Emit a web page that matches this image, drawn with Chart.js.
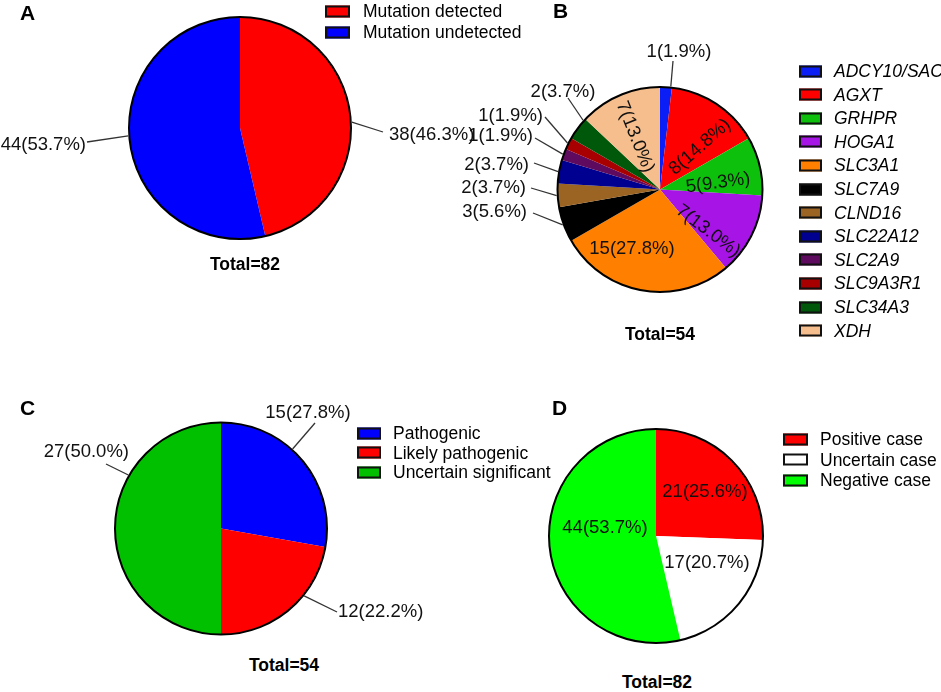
<!DOCTYPE html>
<html>
<head>
<meta charset="utf-8">
<script src="https://cdn.jsdelivr.net/npm/chart.js@4.4.1/dist/chart.umd.min.js"></script>
<style>
    body { margin: 0; background: #fff; }
    #page { position: relative; width: 941px; height: 692px; overflow: hidden; font-family: "Liberation Sans", Arial, sans-serif; color: #000; }
    canvas { position: absolute; }
    .txt { position: absolute; white-space: nowrap; line-height: 1; }
    .letter { font-weight: bold; font-size: 21px; }
    .total { font-weight: bold; font-size: 17.5px; transform: translate(-50%, -50%); }
    .legend-row { position: absolute; display: flex; align-items: center; transform: translateY(-50%); font-size: 17.5px; white-space: nowrap; }
    .swatch { box-sizing: border-box; border: 2px solid #111; }
</style>
</head>
<body>
<div id="page">
    <canvas id="chartA" width="480" height="300" style="left:0;top:0;width:480px;height:300px"></canvas>
    <canvas id="chartB" width="350" height="320" style="left:450px;top:0;width:350px;height:320px"></canvas>
    <canvas id="chartC" width="470" height="300" style="left:0;top:340px;width:470px;height:300px"></canvas>
    <canvas id="chartD" width="320" height="310" style="left:470px;top:340px;width:320px;height:310px"></canvas>
</div>
<script>
// A: mutation detection
const mutationLabels = ["Mutation detected", "Mutation undetected"];
const mutationValues = [38, 44];
const mutationColors = ["#ff0000", "#0000ff"];

// B: mutated genes
const geneLabels = ["ADCY10/SAC", "AGXT", "GRHPR", "HOGA1", "SLC3A1", "SLC7A9", "CLND16", "SLC22A12", "SLC2A9", "SLC9A3R1", "SLC34A3", "XDH"];
const geneValues = [1, 8, 5, 7, 15, 3, 2, 2, 1, 1, 2, 7];
const geneColors = ["#0a1ef5", "#ff0000", "#0cc00c", "#a614e6", "#ff8000", "#000000", "#9c6422", "#000090", "#5e0a5e", "#a80000", "#00580a", "#f5be8c"];

// C: variant classification
const variantLabels = ["Pathogenic", "Likely pathogenic", "Uncertain significant"];
const variantValues = [15, 12, 27];
const variantColors = ["#0000ff", "#ff0000", "#00c000"];

// D: case outcome
const caseLabels = ["Positive case", "Uncertain case", "Negative case"];
const caseValues = [21, 17, 44];
const caseColors = ["#ff0000", "#ffffff", "#00ff00"];

const FONT = '"Liberation Sans", Arial, sans-serif';

// label placement, relative to pie centre (in = inside text, out = text + leader line)
const labelsA = [
    { type: "out", dx: 149, dy: 7, align: "left", lx: 143, ly: 4, edge: 87 },
    { type: "out", dx: -154, dy: 17, align: "right", lx: -153, ly: 14, edge: 266 }
];
const labelsB = [
    { type: "out", dx: 19, dy: -137.5, align: "center", lx: 13, ly: -128.5, edge: 6 },
    { type: "in", dx: 40, dy: -42.5, rot: -41 },
    { type: "in", dx: 58, dy: -6.5, rot: -8 },
    { type: "in", dx: 48, dy: 41.5, rot: 37 },
    { type: "in", dx: -28, dy: 59.5, rot: 0 },
    { type: "out", dx: -133, dy: 22.5, align: "right", lx: -127, ly: 23.5 },
    { type: "out", dx: -134, dy: -1.5, align: "right", lx: -129, ly: -1.5 },
    { type: "out", dx: -131, dy: -24.5, align: "right", lx: -126, ly: -26.5 },
    { type: "out", dx: -127, dy: -53.5, align: "right", lx: -125, ly: -51.5 },
    { type: "out", dx: -117, dy: -73.5, align: "right", lx: -115, ly: -72.5 },
    { type: "out", dx: -97, dy: -97.5, align: "center", lx: -92, ly: -91.5, edge: 312 },
    { type: "in", dx: -25, dy: -52.5, rot: 68 }
];
const labelsC = [
    { type: "out", dx: 87, dy: -115.5, align: "center", lx: 94, ly: -105.5, edge: 42 },
    { type: "out", dx: 117, dy: 83.5, align: "left", lx: 116, ly: 83.5, edge: 129 },
    { type: "out", dx: -92, dy: -76.5, align: "right", lx: -115, ly: -64.5, edge: 300 }
];
const labelsD = [
    { type: "in", dx: 49, dy: -44, rot: 0 },
    { type: "in", dx: 51, dy: 27, rot: 0 },
    { type: "in", dx: -51, dy: -8, rot: 0 }
];

const pieDecor = {
    id: "pieDecor",
    afterDatasetsDraw(chart, args, opts) {
        const ctx = chart.ctx;
        const meta = chart.getDatasetMeta(0);
        const values = chart.data.datasets[0].data;
        const total = values.reduce((a, b) => a + b, 0);
        const { x, y, outerRadius } = meta.data[0].getProps(["x", "y", "outerRadius"], true);

        ctx.save();
        ctx.beginPath();
        ctx.arc(x, y, outerRadius, 0, Math.PI * 2);
        ctx.lineWidth = 2;
        ctx.strokeStyle = "#000";
        ctx.stroke();

        ctx.font = "18.5px " + FONT;
        ctx.fillStyle = "#111";
        ctx.textBaseline = "middle";
        (opts.labels || []).forEach((lab, i) => {
            const arc = meta.data[i];
            const p = arc.getProps(["startAngle", "endAngle"], true);
            const v = values[i];
            const text = v + "(" + (v / total * 100).toFixed(1) + "%)";
            if (lab.type === "in") {
                ctx.save();
                ctx.translate(x + lab.dx, y + lab.dy);
                ctx.rotate(lab.rot * Math.PI / 180);
                ctx.textAlign = "center";
                ctx.fillText(text, 0, 0);
                ctx.restore();
            } else {
                const a = lab.edge !== undefined ? (lab.edge - 90) * Math.PI / 180 : (p.startAngle + p.endAngle) / 2;
                ctx.beginPath();
                ctx.moveTo(x + lab.lx, y + lab.ly);
                ctx.lineTo(x + (outerRadius + 1) * Math.cos(a), y + (outerRadius + 1) * Math.sin(a));
                ctx.lineWidth = 1.3;
                ctx.strokeStyle = "#333";
                ctx.stroke();
                ctx.textAlign = lab.align;
                ctx.fillText(text, x + lab.dx, y + lab.dy);
            }
        });
        ctx.restore();
    }
};

function makePie(id, labels, values, colors, padding, pieLabels) {
    return new Chart(document.getElementById(id), {
        type: "pie",
        data: {
            labels: labels,
            datasets: [{
                data: values,
                backgroundColor: colors,
                borderWidth: 0,
                hoverOffset: 0
            }]
        },
        options: {
            responsive: false,
            animation: false,
            events: [],
            layout: { padding: padding },
            plugins: {
                legend: { display: false },
                tooltip: { enabled: false },
                pieDecor: { labels: pieLabels }
            }
        },
        plugins: [pieDecor]
    });
}

makePie("chartA", mutationLabels, mutationValues, mutationColors, { left: 129, right: 129, top: 17, bottom: 61 }, labelsA);
makePie("chartB", geneLabels, geneValues, geneColors, { left: 107.5, right: 37.5, top: 87, bottom: 28 }, labelsB);
makePie("chartC", variantLabels, variantValues, variantColors, { left: 115, right: 143, top: 82.5, bottom: 5.5 }, labelsC);
makePie("chartD", caseLabels, caseValues, caseColors, { left: 79, right: 27, top: 89, bottom: 7 }, labelsD);

const page = document.getElementById("page");

function addText(cls, text, left, top) {
    const el = document.createElement("div");
    el.className = "txt " + cls;
    el.textContent = text;
    el.style.left = left + "px";
    el.style.top = top + "px";
    page.appendChild(el);
}

function addLegend(labels, colors, left, firstY, step, sw, sh, gap, italic) {
    labels.forEach((name, i) => {
        const row = document.createElement("div");
        row.className = "legend-row";
        row.style.left = left + "px";
        row.style.top = (firstY + step * i) + "px";
        const box = document.createElement("div");
        box.className = "swatch";
        box.style.width = sw + "px";
        box.style.height = sh + "px";
        box.style.background = colors[i];
        box.style.marginRight = gap + "px";
        const label = document.createElement("span");
        label.textContent = name;
        if (italic) label.style.fontStyle = "italic";
        row.appendChild(box);
        row.appendChild(label);
        page.appendChild(row);
    });
}

addText("letter", "A", 20, 2);
addText("letter", "B", 553, 0);
addText("letter", "C", 20, 397);
addText("letter", "D", 552, 397);

addText("total", "Total=82", 245, 265);
addText("total", "Total=54", 660, 335);
addText("total", "Total=54", 284, 666);
addText("total", "Total=82", 657, 683);

addLegend(mutationLabels, mutationColors, 325, 11, 21, 25, 12, 13, false);
addLegend(geneLabels, geneColors, 799, 71, 23.6, 23, 12, 12, true);
addLegend(variantLabels, variantColors, 357, 433, 19.7, 24, 12, 12, false);
addLegend(caseLabels, caseColors, 783, 439, 20.5, 25, 12, 12, false);
</script>
</body>
</html>
